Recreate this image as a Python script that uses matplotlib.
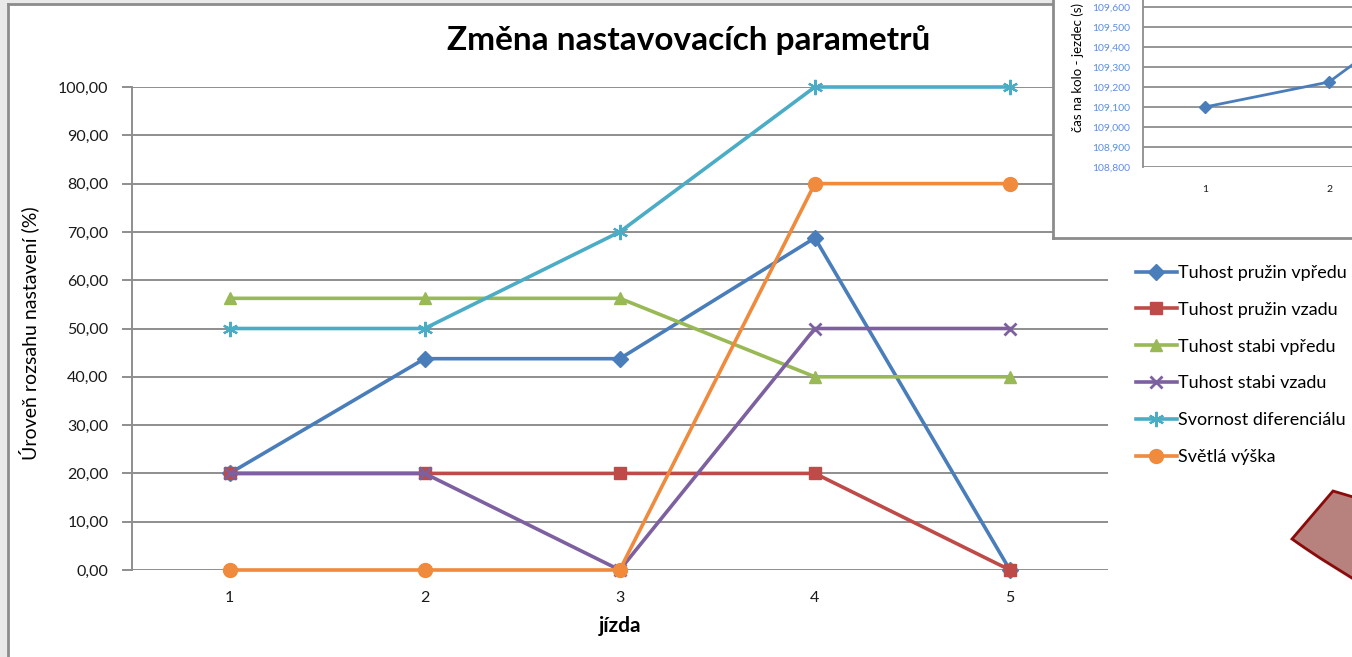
import matplotlib
matplotlib.use("Agg")
import matplotlib.pyplot as plt
from matplotlib.patches import Polygon
from matplotlib.ticker import FuncFormatter

plt.rcParams['font.family'] = ['Lato', 'DejaVu Sans']

# data
jizda = [1, 2, 3, 4, 5]
pruzin_vpredu = [20.0, 43.75, 43.75, 68.75, 0.0]
pruzin_vzadu = [20.0, 20.0, 20.0, 20.0, 0.0]
stabi_vpredu = [56.25, 56.25, 56.25, 40.0, 40.0]
stabi_vzadu = [20.0, 20.0, 0.0, 50.0, 50.0]
svornost = [50.0, 50.0, 70.0, 100.0, 100.0]
svetla_vyska = [0.0, 0.0, 0.0, 80.0, 80.0]

series_names = ['Tuhost pružin vpředu', 'Tuhost pružin vzadu', 'Tuhost stabi vpředu',
                'Tuhost stabi vzadu', 'Svornost diferenciálu', 'Světlá výška']
series_vals = [pruzin_vpredu, pruzin_vzadu, stabi_vpredu, stabi_vzadu, svornost, svetla_vyska]
colors = ['#4A7EBB', '#BE4B48', '#98B954', '#7D60A0', '#4BACC6', '#F08A3C']
markers = ['D', 's', '^', 'x', (6, 2, 0), 'o']
msizes = [8, 9, 9, 8, 11, 10]

# inset chart (partly visible, cut by the screenshot edge)
inset_jizda = [1, 2, 3]
inset_cas = [109100, 109225, 109680]
inset_xticks = [1, 2]
inset_yticks = [108800, 108900, 109000, 109100, 109200, 109300, 109400, 109500, 109600]

W, H = 1352, 657
fig = plt.figure(figsize=(W / 100, H / 100), dpi=100)
fig.patch.set_facecolor('#E9E9E9')


def fbox(x0, y0, x1, y1):
    # pixel box (top-left origin) -> figure fraction rect
    return [x0 / W, 1 - y1 / H, (x1 - x0) / W, (y1 - y0) / H]


# chart area frame
frame = fig.add_axes(fbox(8, 4, W + 20, H + 20), zorder=0)
frame.set_xticks([]); frame.set_yticks([])
frame.set_facecolor('white')
for s in frame.spines.values():
    s.set_color('#8C8C8C'); s.set_linewidth(2)

grid_c = '#8E8E8E'
ax = fig.add_axes(fbox(132, 87, 1107.5, 570), zorder=1)
ax.set_facecolor('none')
for y in range(0, 101, 10):
    ax.axhline(y, color=grid_c, lw=1.4, zorder=1)
for name, vals, c, m, ms in zip(series_names, series_vals, colors, markers, msizes):
    mew = 2.0 if m == 'x' else (1.6 if isinstance(m, tuple) else 1.0)
    ax.plot(jizda, vals, color=c, lw=2.6, marker=m, markersize=ms,
            markeredgewidth=mew, markeredgecolor=c, label=name, clip_on=False, zorder=3)
ax.set_xlim(0.5, 5.5)
ax.set_ylim(0, 100)
ax.set_yticks(range(0, 101, 10))
ax.yaxis.set_major_formatter(FuncFormatter(lambda v, p: f"{v:.2f}".replace('.', ',')))
ax.set_xticks(jizda)
ax.tick_params(axis='y', length=7, width=1.4, color=grid_c, pad=10, labelsize=11.5,
               labelcolor='#1A1A1A')
ax.tick_params(axis='x', length=0, pad=15, labelsize=11.5, labelcolor='#1A1A1A')
for s in ['top', 'right', 'bottom']:
    ax.spines[s].set_visible(False)
ax.spines['left'].set_color(grid_c)
ax.spines['left'].set_linewidth(1.4)
ax.set_xlabel('jízda', fontsize=15, fontweight='bold', labelpad=8)
ax.set_ylabel('Úroveň rozsahu nastavení (%)', fontsize=14, labelpad=8)
ax.yaxis.set_label_coords(-93 / 975.5, 0.49)

fig.text(689 / W, 1 - 40 / H, 'Změna nastavovacích parametrů', fontsize=24,
         fontweight='bold', ha='center', va='center')

leg = ax.legend(loc='upper left', bbox_to_anchor=(1136 / W, 1 - 265 / H),
                bbox_transform=fig.transFigure, frameon=False, fontsize=13,
                handlelength=2.25, handletextpad=0.1, labelspacing=1.15,
                borderaxespad=0, borderpad=0)

# inset chart box
iframe = fig.add_axes(fbox(1053, -20, W + 20, 238), zorder=4)
iframe.set_xticks([]); iframe.set_yticks([])
iframe.set_facecolor('white')
for s in iframe.spines.values():
    s.set_color('#8C8C8C'); s.set_linewidth(2)

ax2 = fig.add_axes(fbox(1143, -13, 1143 + 124 * 5, 167), zorder=5)
ax2.set_facecolor('none')
for y in inset_yticks + [109700]:
    ax2.axhline(y, color=grid_c, lw=1.3, zorder=1)
ax2.plot(inset_jizda, inset_cas, color='#4A7EBB', lw=2, marker='D', markersize=6,
         zorder=3)
ax2.set_xlim(0.5, 5.5)
ax2.set_ylim(108800, 109700)
ax2.set_yticks(inset_yticks)
ax2.yaxis.set_major_formatter(FuncFormatter(lambda v, p: f"{v / 1000:.3f}".replace('.', ',')))
ax2.set_xticks(inset_xticks)
ax2.tick_params(axis='y', length=0, pad=9, labelsize=7.5, labelcolor='#5B8FE0')
ax2.tick_params(axis='x', length=0, pad=13, labelsize=7.5, labelcolor='#1A1A1A')
for s in ['top', 'right', 'bottom']:
    ax2.spines[s].set_visible(False)
ax2.spines['left'].set_color(grid_c)
ax2.spines['left'].set_linewidth(1.3)
ax2.set_ylabel('čas na kolo - jezdec (s)', fontsize=9.5, labelpad=4)
ax2.yaxis.set_label_coords(-59 / 620, 0.55)

# decorative shape in lower right corner
to_fig = lambda pts: [(x / W, 1 - y / H) for x, y in pts]
shape_px = [(1333, 491), (1292, 539), (1305, 548), (1320, 558), (1336, 568),
            (1352, 578), (1360, 582), (1360, 499)]
shadow = Polygon(to_fig([(x + 3, y + 4) for x, y in shape_px]), closed=True,
                 transform=fig.transFigure, facecolor='#C8C8C8', edgecolor='none',
                 zorder=6, alpha=0.8)
shape = Polygon(to_fig(shape_px), closed=True, transform=fig.transFigure,
                facecolor='#B7817E', edgecolor='#8B0A0A', lw=2, zorder=7)
fig.patches.extend([shadow, shape])

fig.savefig('out.png', dpi=100)
